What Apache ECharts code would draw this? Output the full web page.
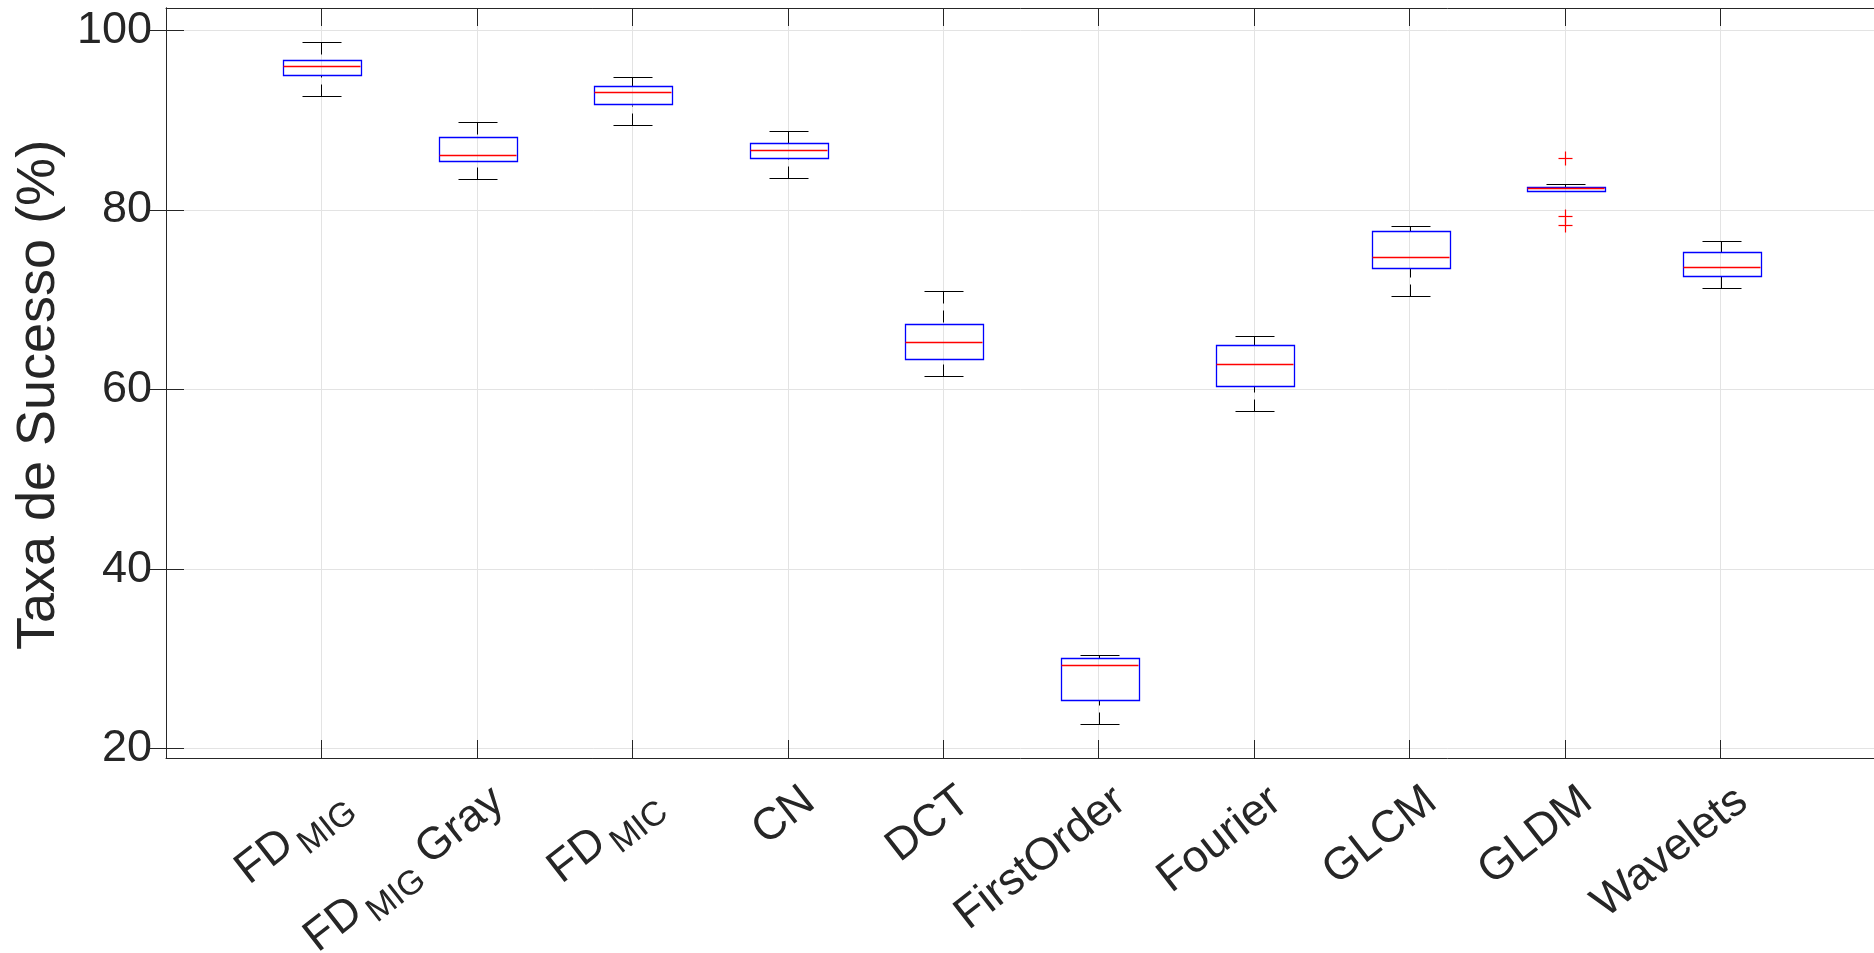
<!DOCTYPE html>
<html>
<head>
<meta charset="utf-8">
<script src="https://cdn.jsdelivr.net/npm/echarts@6/dist/echarts.min.js"></script>
<style>
  html, body { margin: 0; padding: 0; background: #ffffff; }
  #chart { width: 1874px; height: 953px; }
</style>
</head>
<body>
<div id="chart"></div>
<script>
// Feature sets compared (one box per set)
const categories = ['FD_MIG', 'FD_MIG Gray', 'FD_MIC', 'CN', 'DCT', 'FirstOrder', 'Fourier', 'GLCM', 'GLDM', 'Wavelets'];
// Tick label markup: {m|..} normal text, {s|..} subscript
const categoryLabels = ['{m|FD}{s|MIG}', '{m|FD}{s|MIG}{m| Gray}', '{m|FD}{s|MIC}', '{m|CN}', '{m|DCT}',
  '{m|FirstOrder}', '{m|Fourier}', '{m|GLCM}', '{m|GLDM}', '{m|Wavelets}'];

// Five-number summaries, success rate (%)
const whiskerLow  = [92.73, 83.49, 89.44, 83.53, 61.52, 22.80, 57.59, 70.39, 82.15, 71.28];
const quartile1   = [95.03, 85.46, 91.75, 85.80, 63.49, 25.40, 60.41, 73.58, 82.15, 72.62];
const median      = [96.03, 86.13, 93.12, 86.65, 65.34, 29.30, 62.86, 74.81, 82.45, 73.69];
const quartile3   = [96.70, 88.18, 93.79, 87.51, 67.35, 30.05, 65.01, 77.66, 82.56, 75.29];
const whiskerHigh = [98.66, 89.78, 94.76, 88.77, 70.98, 30.40, 66.01, 78.26, 82.93, 76.55];

// Outliers
const outlierCategory = ['GLDM', 'GLDM', 'GLDM'];
const outlierValue    = [85.8, 79.3, 78.3];

const yTicks = [20, 40, 60, 80, 100];
const xPositions = categories.map((c, i) => i + 1);

const INK = '#262626';
const GRID = '#e3e3e3';
const FONT = 'Liberation Sans, Helvetica, Arial, sans-serif';
// rotated tick labels hang slightly to the right of their tick
const LABEL_SHIFT = 0.14;

const boxData = categories.map((c, i) => [i + 1, whiskerLow[i], quartile1[i], median[i], quartile3[i], whiskerHigh[i]]);
const outlierData = outlierCategory.map((c, k) => [categories.indexOf(c) + 1, outlierValue[k]]);

const px = v => Math.round(v) + 0.5;

function renderBox(params, api) {
  const x = api.value(0);
  const lo = api.coord([x, api.value(1)]);
  const b1 = api.coord([x, api.value(2)]);
  const md = api.coord([x, api.value(3)]);
  const b3 = api.coord([x, api.value(4)]);
  const hi = api.coord([x, api.value(5)]);
  const boxHalf = api.size([0.5, 0])[0] / 2;
  const capHalf = api.size([0.25, 0])[0] / 2;
  const cx = px(md[0]);
  const dashed = { stroke: '#000000', lineWidth: 1, lineDash: [12, 7], fill: null };
  const solid = { stroke: '#000000', lineWidth: 1, fill: null };
  return {
    type: 'group',
    children: [
      { type: 'line', shape: { x1: cx, y1: px(hi[1]), x2: cx, y2: px(b3[1]) }, style: dashed },
      { type: 'line', shape: { x1: cx, y1: px(lo[1]), x2: cx, y2: px(b1[1]) }, style: dashed },
      { type: 'line', shape: { x1: px(cx - capHalf), y1: px(hi[1]), x2: px(cx + capHalf), y2: px(hi[1]) }, style: solid },
      { type: 'line', shape: { x1: px(cx - capHalf), y1: px(lo[1]), x2: px(cx + capHalf), y2: px(lo[1]) }, style: solid },
      { type: 'rect', shape: { x: px(cx - boxHalf), y: px(b3[1]), width: Math.round(2 * boxHalf), height: Math.round(b1[1] - b3[1]) },
        style: { stroke: '#0000ff', lineWidth: 1.3, fill: null } },
      { type: 'line', shape: { x1: px(cx - boxHalf), y1: px(md[1]), x2: px(cx + boxHalf), y2: px(md[1]) },
        style: { stroke: '#ff0000', lineWidth: 1.3, fill: null } }
    ]
  };
}

function renderOutlier(params, api) {
  const p = api.coord([api.value(0), api.value(1)]);
  const x = px(p[0]), y = px(p[1]), r = 7;
  const st = { stroke: '#ff0000', lineWidth: 1.2, fill: null };
  return {
    type: 'group',
    children: [
      { type: 'line', shape: { x1: x - r, y1: y, x2: x + r, y2: y }, style: st },
      { type: 'line', shape: { x1: x, y1: y - r, x2: x, y2: y + r }, style: st }
    ]
  };
}

const chart = echarts.init(document.getElementById('chart'), null, { renderer: 'canvas' });

chart.setOption({
  backgroundColor: '#ffffff',
  animation: false,
  grid: { left: 166, top: 8, width: 1710, height: 750, containLabel: false, outerBoundsMode: 'none' },
  xAxis: [
    {
      type: 'value', position: 'bottom', min: 0, max: 11,
      axisLine: { show: true, lineStyle: { color: INK, width: 1 } },
      axisTick: { show: true, inside: true, length: 18, customValues: xPositions, lineStyle: { color: INK, width: 1 } },
      splitLine: { show: true, lineStyle: { color: GRID, width: 1 } },
      axisLabel: { show: false }
    },
    {
      type: 'value', position: 'top', min: 0, max: 11,
      axisLine: { show: true, lineStyle: { color: INK, width: 1 } },
      axisTick: { show: true, inside: true, length: 18, customValues: xPositions, lineStyle: { color: INK, width: 1 } },
      splitLine: { show: false },
      axisLabel: { show: false }
    },
    {
      // tick-label row for the categories
      type: 'value', position: 'bottom', min: -LABEL_SHIFT, max: 11 - LABEL_SHIFT,
      axisLine: { show: false }, axisTick: { show: false }, splitLine: { show: false },
      axisLabel: {
        customValues: xPositions,
        rotate: 38, margin: 38,
        color: INK, fontFamily: FONT, fontSize: 45,
        formatter: v => categoryLabels[Math.round(v) - 1] || '',
        rich: {
          m: { fontSize: 45, fontFamily: FONT, color: INK, lineHeight: 52, verticalAlign: 'middle' },
          s: { fontSize: 34, fontFamily: FONT, color: INK, lineHeight: 66, verticalAlign: 'bottom', padding: [0, 0, 0, 5] }
        }
      }
    }
  ],
  yAxis: [
    {
      type: 'value', position: 'left', min: 18.96, max: 102.5,
      name: 'Taxa de Sucesso (%)', nameLocation: 'middle', nameGap: 96,
      nameTextStyle: { fontSize: 54, fontFamily: FONT, color: INK, padding: [0, 24, 0, 0] },
      axisLine: { show: true, lineStyle: { color: INK, width: 1 } },
      axisTick: { show: true, inside: true, length: 18, customValues: yTicks, lineStyle: { color: INK, width: 1 } },
      splitLine: { show: true, lineStyle: { color: GRID, width: 1 } },
      axisLabel: { customValues: yTicks, margin: 14, color: INK, fontFamily: FONT, fontSize: 45 }
    },
    {
      type: 'value', position: 'right', min: 18.96, max: 102.5,
      axisLine: { show: true, lineStyle: { color: INK, width: 1 } },
      axisTick: { show: true, inside: true, length: 18, customValues: yTicks, lineStyle: { color: INK, width: 1 } },
      splitLine: { show: false },
      axisLabel: { show: false }
    }
  ],
  series: [
    { type: 'custom', name: 'boxes', xAxisIndex: 0, yAxisIndex: 0, renderItem: renderBox, data: boxData, z: 3 },
    { type: 'custom', name: 'outliers', xAxisIndex: 0, yAxisIndex: 0, renderItem: renderOutlier, data: outlierData, z: 4 }
  ]
});
</script>
</body>
</html>
